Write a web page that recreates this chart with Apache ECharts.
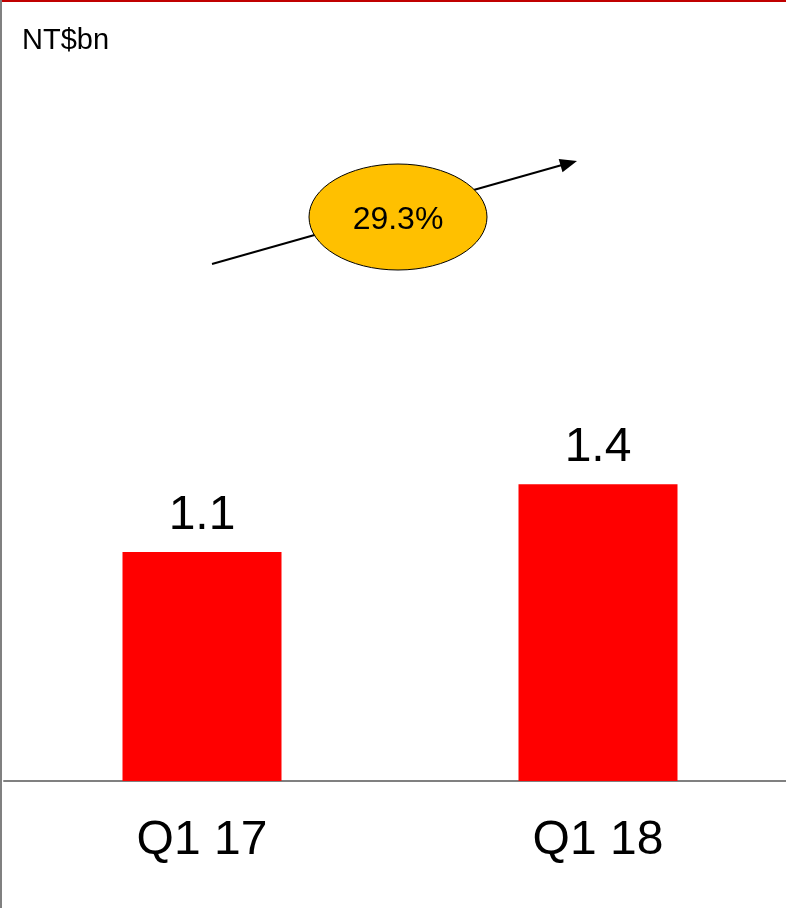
<!DOCTYPE html>
<html>
<head>
<meta charset="utf-8">
<title>NT$bn</title>
<script src="https://cdn.jsdelivr.net/npm/echarts@6/dist/echarts.min.js"></script>
<style>
    html, body { margin: 0; padding: 0; background: #fff; }
    #main { width: 786px; height: 908px; }
</style>
</head>
<body>
<div id="main"></div>
<script>
// 数据
var categories = ['Q1 17', 'Q1 18'];
var values = [1.08, 1.4];
var unitText = 'NT$bn';
var growthText = '29.3%';

var FONT = '"Liberation Sans", Arial, sans-serif';

var myChart = echarts.init(document.getElementById('main'));
var option = {
    backgroundColor: '#fff',
    animation: false,
    title: {
        text: unitText,
        left: 17,
        top: 21,
        textStyle: {
            fontFamily: FONT,
            fontWeight: 'normal',
            fontSize: 29,
            color: '#000'
        }
    },
    grid: {
        left: 4,
        right: -10,
        top: 145,
        bottom: 127,
        outerBoundsMode: 'none'
    },
    xAxis: {
        type: 'category',
        data: categories,
        axisLine: { lineStyle: { color: '#808080', width: 2 } },
        axisTick: { show: false },
        axisLabel: {
            margin: 36,
            fontFamily: FONT,
            fontSize: 48,
            color: '#000'
        }
    },
    yAxis: {
        type: 'value',
        min: 0,
        max: 3,
        show: false
    },
    series: [{
        type: 'bar',
        data: values,
        barWidth: 159,
        itemStyle: { color: '#ff0000' },
        label: {
            show: true,
            position: 'top',
            distance: 12,
            fontFamily: FONT,
            fontSize: 48,
            color: '#000',
            formatter: function (p) { return p.value.toFixed(1); }
        }
    }],
    graphic: [
        // 边框
        { type: 'rect', shape: { x: 0, y: 0, width: 786, height: 2 }, style: { fill: '#c00000' }, z: 10 },
        { type: 'rect', shape: { x: 0, y: 0, width: 2, height: 908 }, style: { fill: '#808080' }, z: 10 },
        // 箭头
        { type: 'line', shape: { x1: 212, y1: 264, x2: 562, y2: 165 }, style: { stroke: '#000', lineWidth: 2 }, z: 10 },
        { type: 'polygon', shape: { points: [[577, 161], [558.7, 158.9], [562.5, 172.3]] }, style: { fill: '#000' }, z: 10 },
        // 增长率
        { type: 'ellipse', shape: { cx: 398, cy: 217, rx: 89, ry: 53 }, style: { fill: '#ffc000', stroke: '#000', lineWidth: 1 }, z: 11 },
        {
            type: 'text', x: 398, y: 220, z: 12,
            style: {
                text: growthText,
                fontFamily: FONT,
                fontSize: 32,
                fill: '#000',
                align: 'center',
                verticalAlign: 'middle'
            }
        }
    ]
};
myChart.setOption(option);
</script>
</body>
</html>
